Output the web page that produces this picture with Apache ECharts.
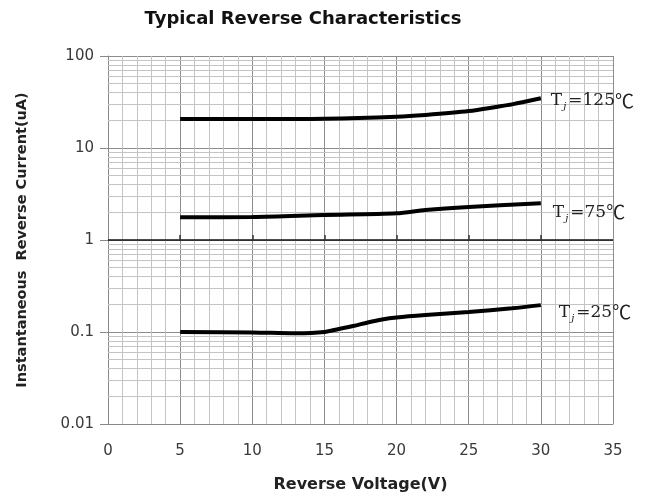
<!DOCTYPE html>
<html>
<head>
<meta charset="utf-8">
<script src="https://cdn.jsdelivr.net/npm/echarts@6/dist/echarts.min.js"></script>
<style>html,body{margin:0;padding:0;background:#fff}#c{width:652px;height:500px}</style>
</head>
<body>
<div id="c"></div>
<script>
// Data
const voltage125 = [5, 10, 15, 20, 22, 25, 27, 28, 30];
const current125 = [20.6, 20.6, 20.8, 21.9, 22.9, 25.2, 28.1, 29.8, 34.7];
const voltage75 = [5, 10, 15, 20, 22, 25, 30];
const current75 = [1.77, 1.78, 1.87, 1.95, 2.12, 2.29, 2.51];
const voltage25 = [5, 10, 13, 15, 16, 17, 18, 19, 20, 22, 25, 28, 30];
const current25 = [0.1, 0.099, 0.097, 0.1, 0.108, 0.116, 0.127, 0.137, 0.144, 0.153, 0.165, 0.181, 0.196];
const labels = ['125', '75', '25'];
const yTicks = [0.01, 0.1, 1, 10, 100];
const decades = [0.01, 0.1, 1, 10];
const minorMult = [2, 3, 4, 5, 6, 7, 8, 9];
const crossTicks = [5, 10, 15, 20, 25, 30];

const minorLines = [];
decades.forEach(d => minorMult.forEach(m => minorLines.push({ yAxis: +(d * m).toPrecision(3) })));
const tickMarks = crossTicks.map(x => [{ coord: [x, 1] }, { coord: [x, 1.13] }]);

const zip = (xs, ys) => xs.map((x, i) => [x, ys[i]]);

function tLabel(t) {
  return '{t|T}{j|j}{t|=' + t + '}{c|℃}';
}
const rich = {
  t: { fontFamily: 'DejaVu Serif', fontSize: 17, color: '#222', lineHeight: 22 },
  j: { fontFamily: 'DejaVu Serif', fontSize: 10, fontStyle: 'italic', color: '#222', verticalAlign: 'bottom', padding: [6, 2, 0, 1] },
  c: { fontFamily: 'Noto Sans CJK SC', fontSize: 19, color: '#222', lineHeight: 22 }
};

function curve(data, label, offset) {
  return {
    type: 'line', data: data, smooth: 0.3, symbol: 'none', z: 5,
    lineStyle: { color: '#000', width: 4 },
    endLabel: { show: true, formatter: () => tLabel(label), rich: rich, offset: offset }
  };
}

const chart = echarts.init(document.getElementById('c'));
chart.setOption({
  animation: false,
  title: {
    text: 'Typical Reverse Characteristics', left: 298, top: 5, textAlign: 'center',
    textStyle: { fontFamily: 'DejaVu Sans', fontWeight: 'bold', fontSize: 18, color: '#111' }
  },
  grid: { left: 108, right: 39, top: 56, bottom: 76 },
  xAxis: {
    type: 'value', min: 0, max: 35, interval: 5,
    name: 'Reverse Voltage(V)', nameLocation: 'middle', nameGap: 53,
    nameTextStyle: { fontFamily: 'DejaVu Sans', fontWeight: 'bold', fontSize: 16, color: '#222' },
    axisLine: { show: true, lineStyle: { color: '#888', width: 1 } },
    axisTick: { show: false },
    axisLabel: { margin: 20, fontFamily: 'DejaVu Sans', fontSize: 15, color: '#3a3a3a' },
    splitLine: { show: true, lineStyle: { color: '#8c8c8c', width: 1 } },
    minorTick: { show: false, splitNumber: 5 },
    minorSplitLine: { show: true, lineStyle: { color: '#c4c4c4', width: 1 } }
  },
  yAxis: {
    type: 'log', logBase: 10, min: 0.01, max: 100,
    name: 'Instantaneous  Reverse Current(uA)', nameLocation: 'middle', nameGap: 78, nameRotate: 90,
    nameTextStyle: { fontFamily: 'DejaVu Sans', fontWeight: 'bold', fontSize: 14.5, color: '#222' },
    axisLine: { show: true, lineStyle: { color: '#888', width: 1 } },
    axisTick: { show: true, inside: false, length: 8, lineStyle: { color: '#888' } },
    axisLabel: { margin: 14, fontFamily: 'DejaVu Sans', fontSize: 15, color: '#3a3a3a',
      formatter: v => { const t = yTicks.find(k => Math.abs(k - v) / k < 1e-6); return t !== undefined ? String(t) : ''; } },
    splitLine: { show: true, lineStyle: { color: '#8c8c8c', width: 1 } }
  },
  series: [
    {
      type: 'line', data: [], silent: true, z: 1,
      markLine: {
        silent: true, symbol: 'none', label: { show: false },
        lineStyle: { color: '#c4c4c4', width: 1, type: 'solid' },
        data: minorLines.concat([{ yAxis: 1, lineStyle: { color: '#111', width: 1.5 } }])
      }
    },
    {
      type: 'line', data: [], silent: true, z: 2,
      markLine: {
        silent: true, symbol: 'none', label: { show: false },
        lineStyle: { color: '#333', width: 1.5, type: 'solid' },
        data: tickMarks
      }
    },
    curve(zip(voltage125, current125), labels[0], [2, 2]),
    curve(zip(voltage75, current75), labels[1], [4, 9]),
    curve(zip(voltage25, current25), labels[2], [10, 7])
  ]
});
</script>
</body>
</html>
